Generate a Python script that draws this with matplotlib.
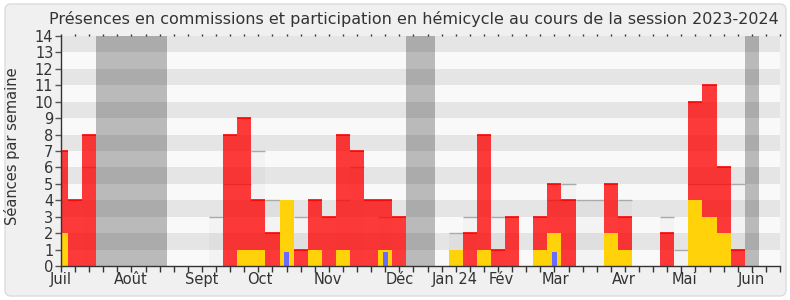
import numpy as np
import matplotlib
matplotlib.use('Agg')
import matplotlib.pyplot as plt
from matplotlib.patches import FancyBboxPatch

# weekly data, week 0 = first week of July 2023
weeks = np.arange(51)
commission = [7, 4, 8, 0, 0, 0, 0, 0, 0, 0, 0, 0, 8, 9, 4, 2, 0, 1, 4, 3,
              8, 7, 4, 4, 3, 0, 0, 0, 0, 2, 8, 1, 3, 0, 3, 5, 4, 0, 0, 5,
              3, 0, 0, 2, 0, 10, 11, 6, 1, 0, 0]
hemicycle = [2, 0, 0, 0, 0, 0, 0, 0, 0, 0, 0, 0, 0, 1, 1, 0, 4, 0, 1, 0,
             1, 0, 0, 1, 0, 0, 0, 0, 1, 0, 1, 0, 0, 0, 1, 2, 0, 0, 0, 2,
             1, 0, 0, 0, 0, 4, 3, 2, 0, 0, 0]
questions = [0, 0, 0, 0, 0, 0, 0, 0, 0, 0, 0, 0, 0, 0, 0, 0, 0.87, 0, 0, 0,
             0, 0, 0, 0.87, 0, 0, 0, 0, 0, 0, 0, 0, 0, 0, 0, 0.87, 0, 0, 0, 0,
             0, 0, 0, 0, 0, 0, 0, 0, 0, 0, 0]
mediane = [0, 0, 6, 0, 0, 0, 0, 0, 0, 0, 0, 3, 5, 5, 7, 4, 0, 3, 0, 0,
           4, 6, 0, 3, 0, 0, 0, 0, 2, 3, 0, 3, 0, 0, 0, 4, 5, 4, 4, 0,
           4, 0, 0, 3, 1, 5, 5, 5, 5, 0, 0]
vacances = [3, 4, 5, 6, 7, 25, 26, 49]

month_pos = [0, 4.95, 9.95, 14.1, 18.9, 24, 27.9, 31.2, 35.1, 39.9, 44.2, 49]
month_labels = ['Juil', 'Août', 'Sept', 'Oct', 'Nov', 'Déc', 'Jan 24', 'Fév',
                'Mar', 'Avr', 'Mai', 'Juin']

plt.rcParams['font.family'] = 'DejaVu Sans'
txt = '#333333'

fig = plt.figure(figsize=(7.9, 3.0), dpi=100, facecolor='white')
# rounded grey frame
fig.patches.append(FancyBboxPatch((5, 4), 781, 292, boxstyle='round,pad=0,rounding_size=6',
                                  transform=None, facecolor='#f0f0f0', edgecolor='#dcdcdc',
                                  linewidth=1, zorder=-10))

ax = fig.add_axes([61 / 790, 34 / 300, 719 / 790, 230 / 300])
ax.set_facecolor('#f9f9f9')

# horizontal stripes
for y in range(1, 14, 2):
    ax.axhspan(y, y + 1, color='#e5e5e5', lw=0, zorder=0)

# holidays
for w in vacances:
    ax.axvspan(w - 0.5, w + 0.5, color='black', alpha=0.25, lw=0, zorder=1)

w = weeks
med = np.array(mediane)
m = med > 0
ax.bar(w[m], med[m], width=1, color='black', alpha=0.025, lw=0, zorder=2)
ax.hlines(med[m], w[m] - 0.5, w[m] + 0.5, color='#aaaaaa', lw=1, zorder=2)

com = np.array(commission)
c = com > 0
ax.bar(w[c], com[c], width=1, color='red', alpha=0.77, lw=0, zorder=3)
ax.hlines(com[c], w[c] - 0.5, w[c] + 0.5, color='#ff0000', lw=1.2, zorder=3)

hem = np.array(hemicycle)
h = hem > 0
ax.bar(w[h], hem[h], width=1, color='#ffd20a', lw=0, zorder=4)

q = np.array(questions)
k = q > 0
ax.bar(w[k], q[k], width=0.35, color='#6a6aff', lw=0, zorder=5)

ax.set_xlim(0, 51)
ax.set_ylim(0, 14)
ax.set_yticks(range(15))
ax.set_xticks(range(52), [''] * 52)
ax.set_xticks(month_pos, month_labels, minor=True)
ax.xaxis.remove_overlapping_locs = False

for s in ['top', 'right']:
    ax.spines[s].set_visible(False)
for s in ['left', 'bottom']:
    ax.spines[s].set_color('#333333')
    ax.spines[s].set_linewidth(1)
    ax.spines[s].set_zorder(6)

ax.tick_params(axis='y', length=4, width=1, color='#555555', pad=1.5,
               labelsize=10.5, labelcolor=txt)
ax.tick_params(axis='x', which='major', length=4, width=1, color='#333333',
               top=True, direction='out')
ax.tick_params(axis='x', which='minor', length=0, pad=4, labelsize=10.5,
               labelcolor=txt)
for t in ax.xaxis.get_major_ticks():
    t.tick2line.set_markersize(1.5)

fig.text(414 / 790, 1 - 24 / 300, 'Présences en commissions et participation en hémicycle au cours de la session 2023-2024',
         ha='center', va='baseline', fontsize=11.5, color=txt)
fig.text(12.5 / 790, 1 - 146.5 / 300, 'Séances par semaine', rotation=90,
         ha='center', va='center', fontsize=10.5, color=txt)

fig.savefig('out.png', dpi=100, facecolor=fig.get_facecolor())
